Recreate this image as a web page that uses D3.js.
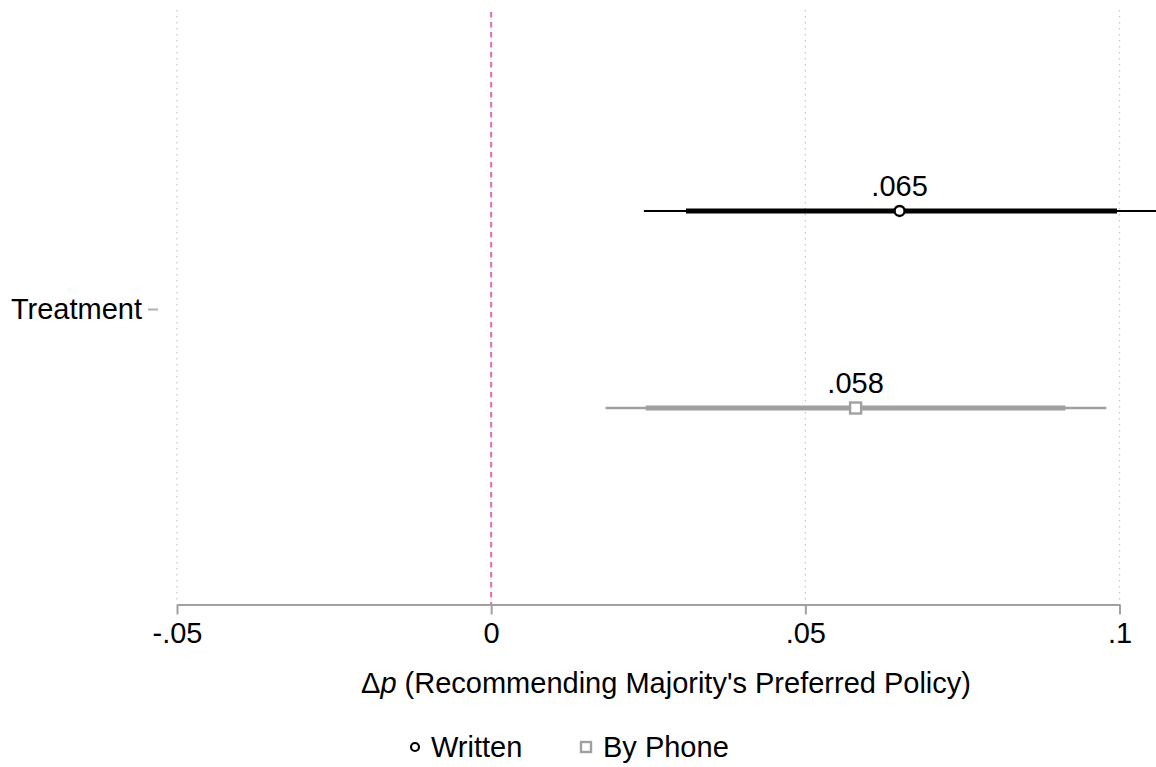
<!DOCTYPE html>
<html>
<head>
<meta charset="utf-8">
<script src="https://cdn.jsdelivr.net/npm/d3@7"></script>
<style>
  html, body { margin: 0; padding: 0; background: #fff; }
  svg { display: block; font-family: "Liberation Sans", Arial, Helvetica, sans-serif; }
</style>
</head>
<body>
<svg id="chart" width="1156" height="767"></svg>
<script>
// Coefficient plot data
const categories = ["Treatment"];
const seriesNames = ["Written", "By Phone"];
const estimates = [0.065, 0.058];
const ci90Low = [0.031, 0.0246];
const ci90High = [0.0996, 0.0914];
const ci95Low = [0.0243, 0.0182];
const ci95High = [0.1065, 0.0979];
const xTicks = [-0.05, 0, 0.05, 0.1];
const xTickLabels = ["-.05", "0", ".05", ".1"];
const estLabels = [".065", ".058"];
const seriesColors = ["#000000", "#a0a0a0"];

const svg = d3.select("#chart");
const fontSize = 29;

const x = d3.scaleLinear().domain([-0.05, 0.1]).range([177, 1119.5]);
const y = d3.scaleBand().domain(categories).range([12, 607]);
const ySeries = d3.scalePoint().domain(seriesNames).range([0, y.bandwidth()]).padding(1.01);

const axisY = 604.5;

// dotted vertical gridlines
svg.append("g")
  .selectAll("line")
  .data(xTicks.filter(d => d !== 0))
  .join("line")
  .attr("x1", d => x(d)).attr("x2", d => x(d))
  .attr("y1", 10).attr("y2", axisY)
  .attr("stroke", "#c8c8c8")
  .attr("stroke-width", 1.3)
  .attr("stroke-dasharray", "1.5,4.5");

// reference line at zero
svg.append("line")
  .attr("x1", x(0)).attr("x2", x(0))
  .attr("y1", 12).attr("y2", axisY)
  .attr("stroke", "#e36aae")
  .attr("stroke-width", 2)
  .attr("stroke-dasharray", "5.5,4.5");

// x axis
const xAxis = d3.axisBottom(x)
  .tickValues(xTicks)
  .tickFormat((d, i) => xTickLabels[i])
  .tickSize(10)
  .tickSizeOuter(0);
const gx = svg.append("g").attr("transform", `translate(0,${axisY})`).call(xAxis);
gx.select(".domain").attr("stroke", "#a0a0a0").attr("stroke-width", 2);
gx.selectAll(".tick line").attr("stroke", "#a0a0a0").attr("stroke-width", 2);
gx.selectAll(".tick text")
  .attr("fill", "#000")
  .attr("font-size", fontSize)
  .attr("font-family", "Liberation Sans, Arial, sans-serif")
  .attr("y", 18)
  .attr("dy", "0.71em");

// y axis (category tick and label only)
const yAxis = d3.axisLeft(y).tickSize(10).tickPadding(6);
const gy = svg.append("g").attr("transform", "translate(158,0)").call(yAxis);
gy.select(".domain").remove();
gy.selectAll(".tick line").attr("stroke", "#b0b0b0").attr("stroke-width", 2);
gy.selectAll(".tick text")
  .attr("fill", "#000")
  .attr("font-size", fontSize)
  .attr("font-family", "Liberation Sans, Arial, sans-serif");

// confidence intervals and point estimates
const rows = seriesNames.map((s, i) => ({
  name: s, est: estimates[i], lo90: ci90Low[i], hi90: ci90High[i],
  lo95: ci95Low[i], hi95: ci95High[i], color: seriesColors[i], label: estLabels[i],
  cy: y(categories[0]) + ySeries(s)
}));

const g = svg.append("g");
rows.forEach((r, i) => {
  g.append("line")
    .attr("x1", x(r.lo95)).attr("x2", x(r.hi95))
    .attr("y1", r.cy).attr("y2", r.cy)
    .attr("stroke", r.color).attr("stroke-width", i === 0 ? 2 : 2.6);
  g.append("line")
    .attr("x1", x(r.lo90)).attr("x2", x(r.hi90))
    .attr("y1", r.cy).attr("y2", r.cy)
    .attr("stroke", r.color).attr("stroke-width", 5.2);
  if (i === 0) {
    g.append("circle")
      .attr("cx", x(r.est)).attr("cy", r.cy).attr("r", 5)
      .attr("fill", "#fff").attr("stroke", r.color).attr("stroke-width", 2.4);
  } else {
    g.append("rect")
      .attr("x", x(r.est) - 5.5).attr("y", r.cy - 5.5)
      .attr("width", 11).attr("height", 11)
      .attr("fill", "#fff").attr("stroke", r.color).attr("stroke-width", 2.4);
  }
  g.append("text")
    .attr("x", x(r.est)).attr("y", r.cy - 15)
    .attr("text-anchor", "middle")
    .attr("font-size", fontSize)
    .text(r.label);
});

// axis title
const title = svg.append("text")
  .attr("x", 666).attr("y", 693)
  .attr("text-anchor", "middle")
  .attr("font-size", fontSize);
title.append("tspan").text("Δ");
title.append("tspan").attr("font-style", "italic").text("p");
title.append("tspan").text(" (Recommending Majority's Preferred Policy)");

// legend
const legendY = 747;
const lg = svg.append("g");
lg.append("circle").attr("cx", 415).attr("cy", legendY).attr("r", 4)
  .attr("fill", "#fff").attr("stroke", seriesColors[0]).attr("stroke-width", 2.2);
lg.append("text").attr("x", 431).attr("y", legendY + 10).attr("font-size", fontSize).text(seriesNames[0]);
lg.append("rect").attr("x", 586 - 5).attr("y", legendY - 5).attr("width", 10).attr("height", 10)
  .attr("fill", "#fff").attr("stroke", seriesColors[1]).attr("stroke-width", 2.4);
lg.append("text").attr("x", 603).attr("y", legendY + 10).attr("font-size", fontSize).text(seriesNames[1]);
</script>
</body>
</html>
